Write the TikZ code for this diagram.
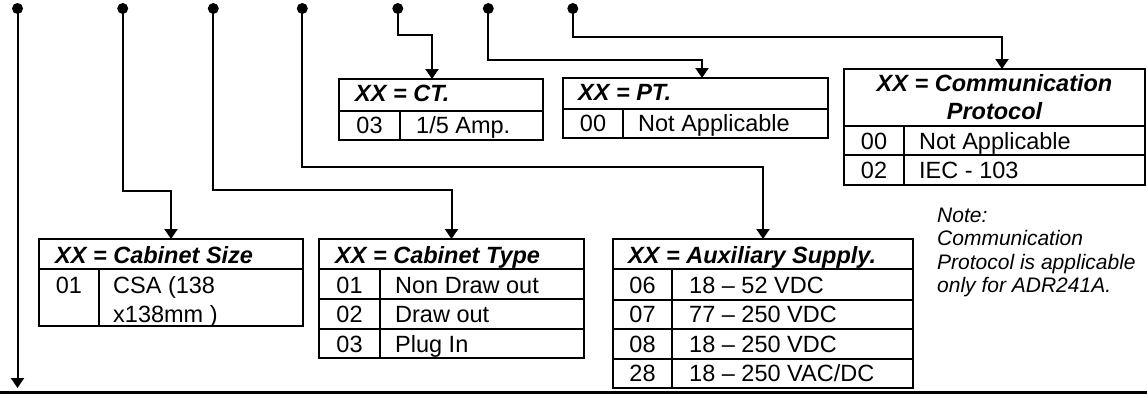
\documentclass[tikz,border=0pt]{standalone}
\usepackage{fontspec}
\setmainfont{Liberation Sans}
\usetikzlibrary{arrows.meta,calc}
\begin{document}
\begin{tikzpicture}[x=1pt,y=-1pt,
  conn/.style={line width=2pt},
  arr/.style={conn,-{Triangle[length=10pt,width=13pt]}},
  dot/.style={circle,fill=black,inner sep=0pt,minimum size=11pt},
  tbl/.style={draw,line width=1.8pt,inner sep=0pt,outer sep=0pt,anchor=north west},
  rule/.style={line width=1.6pt},
  hd/.style={font=\fontsize{23.5}{27.5}\selectfont\bfseries\itshape,inner sep=0pt,anchor=base west},
  tx/.style={font=\fontsize{23.5}{29}\selectfont,inner sep=0pt,anchor=base west},
  cd/.style={font=\fontsize{23.5}{29}\selectfont,inner sep=0pt,anchor=base},
  note/.style={font=\fontsize{21}{23.5}\selectfont\itshape,inner sep=0pt,anchor=base west,align=left}]
\useasboundingbox (0,0) rectangle (1147,397);

% ---------- tables ----------
% Cabinet Size
\node[tbl,minimum width=264pt,minimum height=87pt] (cs) at (39,239) {};
\draw[rule] (39,269) -- (303,269);
\draw[rule] (99,269) -- (99,326);
\node[hd] (csh) at (55,263) {XX = Cabinet Size};
\node[cd] (cs1c) at (69,293) {01};
\node[tx,align=left] (cs1d) at (113,322) {CSA (138\\x138mm )};

% Cabinet Type
\node[tbl,minimum width=265pt,minimum height=119pt] (ctp) at (319,239) {};
\draw[rule] (319,269) -- (584,269);
\draw[rule] (319,299) -- (584,299);
\draw[rule] (319,329) -- (584,329);
\draw[rule] (380,269) -- (380,358);
\node[hd] (ctph) at (335,263) {XX = Cabinet Type};
\node[cd] (ctp1c) at (349.5,293) {01};
\node[tx] (ctp1d) at (395,293) {Non Draw out};
\node[cd] (ctp2c) at (349.5,322.5) {02};
\node[tx] (ctp2d) at (395,322.5) {Draw out};
\node[cd] (ctp3c) at (349.5,352) {03};
\node[tx] (ctp3d) at (395,352) {Plug In};

% Auxiliary Supply
\node[tbl,minimum width=300pt,minimum height=149pt] (aux) at (613,239) {};
\draw[rule] (613,269) -- (913,269);
\draw[rule] (613,300) -- (913,300);
\draw[rule] (613,329) -- (913,329);
\draw[rule] (613,359) -- (913,359);
\draw[rule] (672,269) -- (672,388);
\node[hd] (auxh) at (628,263) {XX = Auxiliary Supply.};
\node[cd] (aux1c) at (642.5,293.3) {06};
\node[tx] (aux1d) at (689,293.3) {18 – 52 VDC};
\node[cd] (aux2c) at (642.5,322.7) {07};
\node[tx] (aux2d) at (689,322.7) {77 – 250 VDC};
\node[cd] (aux3c) at (642.5,352.5) {08};
\node[tx] (aux3d) at (689,352.5) {18 – 250 VDC};
\node[cd] (aux4c) at (642.5,381.7) {28};
\node[tx] (aux4d) at (689,381.7) {18 – 250 VAC/DC};

% CT
\node[tbl,minimum width=204pt,minimum height=61pt] (ct) at (339,79) {};
\draw[rule] (339,111) -- (543,111);
\draw[rule] (400,111) -- (400,140);
\node[hd] (cth) at (355,101.7) {XX = CT.};
\node[cd] (ct1c) at (369.5,133.3) {03};
\node[tx] (ct1d) at (416,133.3) {1/5 Amp.};

% PT
\node[tbl,minimum width=265pt,minimum height=60pt] (pt) at (563,78) {};
\draw[rule] (563,109) -- (828,109);
\draw[rule] (623,109) -- (623,138);
\node[hd] (pth) at (578,100.7) {XX = PT.};
\node[cd] (pt1c) at (593,131.7) {00};
\node[tx] (pt1d) at (638,131.7) {Not Applicable};

% Communication Protocol
\node[tbl,minimum width=301pt,minimum height=116pt] (cm) at (844,69) {};
\draw[rule] (844,126) -- (1145,126);
\draw[rule] (844,155) -- (1145,155);
\draw[rule] (904,126) -- (904,185);
\node[hd,anchor=base,align=center] (cmh) at (994.5,119) {XX = Communication\\Protocol};
\node[cd] (cm1c) at (874,149) {00};
\node[tx] (cm1d) at (919,149) {Not Applicable};
\node[cd] (cm2c) at (874,178) {02};
\node[tx] (cm2d) at (919,178) {IEC - 103};

% Note
\node[note] (nt) at (937,292.5) {Note:\\Communication\\Protocol is applicable\\only for ADR241A.};

% bottom rule
\draw[line width=2.5pt] (0,392.5) -- (1147,392.5);

% ---------- dots ----------
\node[dot] (d1) at (17.5,8.5) {};
\node[dot] (d2) at (122.7,8.5) {};
\node[dot] (d3) at (213.3,8.5) {};
\node[dot] (d4) at (302.3,8.5) {};
\node[dot] (d5) at (397.8,8.5) {};
\node[dot] (d6) at (488.3,8.5) {};
\node[dot] (d7) at (572.8,8.5) {};

% ---------- connectors ----------
\coordinate (e1) at (17.5,388);
\coordinate (b2) at (122.7,191);
\coordinate (b3) at (213.3,190);
\coordinate (b4) at (302.3,167);
\coordinate (b5) at (397.8,35);
\coordinate (b6) at (488.3,60);
\coordinate (b7) at (572.8,37);

\draw[arr] (d1.center) -- (e1);
\draw[arr] (d2.center) -- (b2) -| (cs.north);
\draw[arr] (d3.center) -- (b3) -| (ctp.north);
\draw[arr] (d4.center) -- (b4) -| (aux.north);
\draw[arr] (d5.center) -- (b5) -| ($(ct.north)+(-9,0)$);
\draw[arr] (d6.center) -- (b6) -| ($(pt.north)+(6.5,0)$);
\draw[arr] (d7.center) -- (b7) -| ($(cm.north)+(7.5,0)$);
\end{tikzpicture}
\end{document}
